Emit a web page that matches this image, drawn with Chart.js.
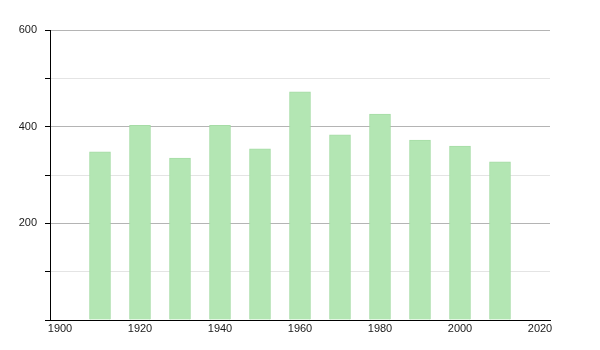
<!DOCTYPE html>
<html>
<head>
<meta charset="utf-8">
<script src="https://cdn.jsdelivr.net/npm/chart.js@4"></script>
<style>
  html, body { margin: 0; padding: 0; background: #fff; }
  #wrap { width: 600px; height: 350px; position: relative; }
</style>
</head>
<body>
<div id="wrap"><canvas id="c" width="600" height="350"></canvas></div>
<script>
const years = [1910, 1920, 1930, 1940, 1950, 1960, 1970, 1980, 1990, 2000, 2010];
const population = [348, 403, 335, 403, 354, 472, 383, 426, 372, 360, 327];
const xTicks = [1900, 1920, 1940, 1960, 1980, 2000, 2020];
const yLabelTicks = [200, 400, 600];

const points = years.map((y, i) => ({ x: y, y: population[i] }));

new Chart(document.getElementById('c'), {
  type: 'bar',
  data: {
    datasets: [{
      data: points,
      backgroundColor: '#b3e6b3',
      borderColor: '#a6dca6',
      borderWidth: 1,
      barThickness: 21
    }]
  },
  options: {
    responsive: false,
    animation: false,
    events: [],
    layout: { padding: { top: 30, right: 50, left: 0, bottom: 0 } },
    plugins: { legend: { display: false }, tooltip: { enabled: false } },
    scales: {
      x: {
        type: 'linear',
        offset: false,
        min: 1897.5,
        max: 2022.5,
        afterBuildTicks: (s) => { s.ticks = xTicks.map(v => ({ value: v })); },
        ticks: {
          autoSkip: false,
          maxRotation: 0,
          padding: 2,
          color: '#1a1a1a',
          font: { family: 'Liberation Sans', size: 11 },
          callback: (v) => String(v)
        },
        grid: { display: false, drawTicks: false, offset: false },
        border: { display: true, color: '#000', width: 1 },
        afterFit: (s) => { s.height = 30; }
      },
      y: {
        min: 0,
        max: 600,
        ticks: {
          stepSize: 100,
          padding: 8,
          color: '#1a1a1a',
          font: { family: 'Liberation Sans', size: 11 },
          callback: (v) => yLabelTicks.includes(v) ? String(v) : ''
        },
        grid: {
          color: (ctx) => ctx.tick && ctx.tick.value % 200 === 0 ? '#b4b4b4' : '#e4e4e4',
          tickColor: '#000',
          tickLength: 5,
          drawOnChartArea: true
        },
        border: { display: true, color: '#000', width: 1 },
        afterFit: (s) => { s.width = 50; }
      }
    }
  }
});
</script>
</body>
</html>
